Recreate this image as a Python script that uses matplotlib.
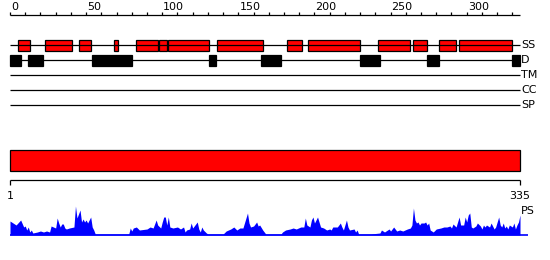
import matplotlib
matplotlib.use("Agg")
import matplotlib.pyplot as plt
from matplotlib.patches import Rectangle

L = 335  # sequence length

# secondary structure boxes (start, end residue)
ss_start = [5, 23, 45, 68, 83, 98, 104, 136, 182, 196, 242, 265, 282, 295]
ss_end = [13, 41, 53, 71, 97, 103, 131, 166, 192, 230, 263, 274, 293, 330]

# disorder boxes
d_start = [0, 12, 54, 131, 165, 230, 274, 330]
d_end = [7, 22, 80, 135, 178, 243, 282, 335]

track_names = ["SS", "D", "TM", "CC", "SP"]
top_ticks = list(range(0, 331, 10))
top_labels = list(range(0, 301, 50))

# PS profile (residue, value)
ps_res = [0, 2, 4, 7, 9, 10, 11, 12, 13, 14, 15, 18, 20, 22, 24, 26, 27, 30, 31, 32,
          33, 34, 35, 36, 37, 39, 42, 43, 44, 46, 47, 48, 49, 50, 51, 53, 54, 55, 56, 78,
          79, 80, 81, 83, 85, 90, 92, 94, 96, 97, 99, 100, 101, 102, 103, 104, 105, 107, 110, 112,
          114, 115, 116, 118, 119, 120, 123, 124, 125, 126, 127, 129, 130, 140, 142, 145, 147, 149, 151, 153,
          156, 157, 158, 160, 162, 163, 164, 166, 168, 178, 179, 181, 184, 186, 188, 191, 193, 194, 195, 197,
          198, 199, 200, 202, 203, 204, 206, 208, 210, 211, 212, 215, 217, 218, 219, 220, 221, 222, 223, 226,
          227, 228, 229, 237, 243, 244, 246, 249, 250, 252, 253, 254, 256, 258, 261, 263, 264, 265, 266, 267,
          268, 269, 270, 272, 273, 274, 275, 276, 277, 278, 280, 283, 285, 287, 289, 290, 291, 293, 295, 296,
          298, 299, 300, 301, 302, 303, 304, 306, 307, 309, 310, 311, 312, 313, 315, 316, 318, 319, 320, 321,
          322, 323, 324, 325, 326, 327, 328, 330, 331, 332, 333, 334, 335]
ps_val = [14, 12, 10, 15, 8, 9, 5, 8, 3, 5, 2, 3, 4, 3, 4, 3, 9, 7, 17, 12,
          8, 11, 11, 7, 6, 7, 8, 29, 17, 25, 13, 16, 13, 15, 12, 18, 8, 5, 1, 1,
          7, 4, 7, 8, 5, 6, 8, 7, 15, 10, 7, 13, 18, 18, 10, 18, 8, 7, 8, 6,
          8, 3, 5, 6, 12, 7, 13, 6, 3, 8, 5, 2, 1, 1, 4, 6, 8, 5, 7, 7,
          22, 12, 8, 9, 13, 9, 10, 5, 1, 1, 3, 5, 6, 7, 6, 8, 8, 17, 10, 8,
          15, 18, 12, 18, 13, 8, 7, 5, 6, 5, 8, 8, 12, 8, 5, 10, 15, 8, 5, 6,
          3, 5, 1, 1, 2, 5, 3, 6, 4, 8, 6, 4, 5, 4, 6, 7, 10, 27, 15, 12,
          13, 10, 12, 12, 13, 10, 12, 5, 4, 3, 6, 7, 8, 8, 9, 7, 11, 8, 18, 10,
          10, 18, 13, 20, 22, 8, 7, 9, 12, 9, 6, 10, 8, 10, 8, 12, 6, 8, 13, 18,
          10, 8, 12, 7, 9, 6, 10, 8, 12, 6, 10, 13, 20]

px = 510 / L  # pixels per residue
fig = plt.figure(figsize=(5.5, 2.6), dpi=100)
ax = fig.add_axes([0, 0, 1, 1])
ax.set_xlim(-10 / px, 540 / px)
ax.set_ylim(260, 0)
ax.axis("off")

lw = 0.9
fs = 8

# top ruler
ax.hlines(15, 0, L, color="black", lw=lw)
for t in top_ticks:
    ax.vlines(t, 12, 15, color="black", lw=lw)
for t in top_labels:
    ax.text(t + 1 / px, 10.5, str(t), fontsize=fs, ha="left", va="baseline")

# tracks
track_y = [45, 60, 75, 90, 105]
for name, y in zip(track_names, track_y):
    ax.hlines(y, 0, L, color="black", lw=lw)
    ax.text(L + 1 / px, y, name, fontsize=fs, ha="left", va="center")

for s, e in zip(ss_start, ss_end):
    ax.add_patch(Rectangle((s, 40), e - s, 11, facecolor="#ff0000", edgecolor="black", lw=lw))
for s, e in zip(d_start, d_end):
    ax.add_patch(Rectangle((s, 55), e - s, 11, facecolor="black", edgecolor="black", lw=lw))

# full-length bar
ax.add_patch(Rectangle((0, 150), L, 21, facecolor="#ff0000", edgecolor="black", lw=lw))
ax.hlines(180, 0, L, color="black", lw=lw)
ax.vlines([0, L], 180, 185, color="black", lw=lw)
ax.text(0, 196, "1", fontsize=fs, ha="center", va="center")
ax.text(L, 196, "335", fontsize=fs, ha="center", va="center")
ax.text(L + 1 / px, 211, "PS", fontsize=fs, ha="left", va="center")

# PS profile
base = 235
ax.fill_between(ps_res, [base] * len(ps_res), [base - v for v in ps_val], color="#0000ff", lw=0)
ax.hlines(base, 0, L + 5, color="#0000ff", lw=1.2)

fig.savefig("out.png", dpi=100)
